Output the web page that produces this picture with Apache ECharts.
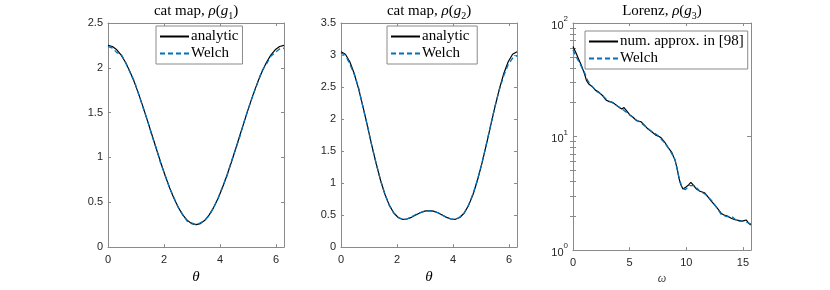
<!DOCTYPE html>
<html>
<head>
<meta charset="utf-8">
<script src="https://cdn.jsdelivr.net/npm/echarts@6/dist/echarts.min.js"></script>
<style>html,body{margin:0;padding:0;background:#fff}#c{width:830px;height:290px}</style>
</head>
<body>
<div id="c"></div>
<script>
// ---- data ----
var theta = [0,0.1571,0.3142,0.4712,0.6283,0.7854,0.9425,1.0996,1.2566,1.4137,1.5708,1.7279,1.8850,2.0420,2.1991,2.3562,2.5133,2.6704,2.8274,2.9845,3.1416,3.2987,3.4558,3.6128,3.7699,3.9270,4.0841,4.2412,4.3982,4.5553,4.7124,4.8695,5.0265,5.1836,5.3407,5.4978,5.6549,5.8119,5.9690,6.1261,6.2832];
var g1Analytic = [2.25,2.238,2.201,2.141,2.059,1.957,1.838,1.704,1.559,1.406,1.25,1.094,0.941,0.796,0.662,0.543,0.441,0.359,0.299,0.262,0.25,0.262,0.299,0.359,0.441,0.543,0.662,0.796,0.941,1.094,1.25,1.406,1.559,1.704,1.838,1.957,2.059,2.141,2.201,2.238,2.25];
var g1Welch = [2.24,2.22,2.17,2.15,2.06,1.95,1.85,1.70,1.55,1.41,1.24,1.10,0.93,0.80,0.66,0.55,0.44,0.36,0.29,0.27,0.25,0.27,0.30,0.35,0.44,0.54,0.67,0.79,0.95,1.09,1.24,1.41,1.56,1.70,1.83,1.97,2.04,2.13,2.17,2.21,2.22];
var g2Analytic = [3.05,3.011,2.895,2.711,2.472,2.193,1.892,1.589,1.300,1.040,0.822,0.652,0.533,0.463,0.434,0.439,0.465,0.502,0.536,0.561,0.570,0.561,0.536,0.502,0.465,0.439,0.434,0.463,0.533,0.652,0.822,1.040,1.300,1.589,1.892,2.193,2.472,2.711,2.895,3.011,3.05];
var g2Welch = [3.03,3.00,2.86,2.70,2.49,2.18,1.90,1.58,1.31,1.04,0.82,0.65,0.53,0.46,0.43,0.44,0.47,0.51,0.54,0.56,0.57,0.56,0.54,0.50,0.46,0.44,0.43,0.47,0.53,0.66,0.83,1.05,1.30,1.60,1.90,2.20,2.46,2.68,2.85,2.95,2.99];
var omegaNum = [0,0.25,0.5,0.75,1.0,1.2,1.4,1.7,2.0,2.3,2.6,2.9,3.2,3.5,3.8,4.1,4.3,4.5,4.7,5.0,5.3,5.6,6.0,6.3,6.6,7.0,7.3,7.6,7.8,8.1,8.4,8.7,9.0,9.2,9.35,9.5,9.7,9.9,10.2,10.4,10.6,10.9,11.2,11.6,11.9,12.2,12.5,12.8,13.1,13.4,13.7,14.0,14.3,14.6,14.9,15.1,15.3,15.5,15.7];
var g3Num = [62,55,48,42,36,31,29,27.5,25.5,24.5,23,21,20.3,20,19,18,17.5,18,17,15.6,14.8,13.8,13.5,12.6,11.7,10.9,10.3,10.0,9.7,8.9,8.0,7.3,6.2,5.2,4.3,3.8,3.45,3.55,3.75,3.95,3.75,3.45,3.3,3.2,2.95,2.7,2.5,2.3,2.1,2.02,1.98,1.9,1.85,1.83,1.80,1.82,1.84,1.72,1.66];
var omegaWelch = [0,0.3,0.6,1.0,1.3,1.7,2.1,2.5,3.0,3.5,4.0,4.5,5.0,5.5,6.0,6.5,7.0,7.5,8.0,8.5,9.0,9.3,9.6,9.9,10.3,10.7,11.2,11.7,12.2,12.7,13.1,13.6,14.1,14.5,15.0,15.4,15.7];
var g3Welch = [58,50,44,37,31,27.5,25,23.5,21,19.8,18.3,17,15.5,14.2,13.2,12,11,10.2,9,7.7,6.3,4.6,3.6,3.4,3.7,3.7,3.3,3.1,2.75,2.35,2.05,1.97,1.95,1.8,1.8,1.75,1.7];
var minorLog = [2,3,4,5,6,7,8,9,20,30,40,50,60,70,80,90];
var titleParts = [['cat map, ','1'],['cat map, ','2'],['Lorenz, ','3']];
var legendNames = [['analytic','Welch'],['analytic ','Welch '],['num. approx. in [98]','Welch  ']];

function zip(a,b){return a.map(function(v,i){return [v,b[i]];});}

var SANS = 'Liberation Sans, Arial, sans-serif';
var SERIF = 'Liberation Serif, Times New Roman, serif';
var AX = '#8a8a8a';
var TXT = '#262626';
var BLUE = '#0072BD';
var grids = [
  {left:108, top:23, width:176, height:228},
  {left:341, top:23, width:176, height:228},
  {left:573, top:23, width:178, height:228}
];
var xMax = [6.2832, 6.2832, 15.708];
var xInt = [2, 2, 5];
var xNames = ['θ','θ','ω'];

var xAxes = [], yAxes = [];
for (var i=0;i<3;i++){
  xAxes.push({type:'value', gridIndex:i, min:0, max:xMax[i], interval:xInt[i], position:'bottom',
    name:xNames[i], nameLocation:'middle', nameGap:i==2?10:8,
    nameTextStyle:{fontFamily:SERIF, fontStyle:'italic', fontSize:i==2?12:15, color:i==2?'#444':'#000'},
    axisLine:{show:true, onZero:false, lineStyle:{color:AX, width:1}},
    axisTick:{show:true, inside:true, length:3, lineStyle:{color:AX}},
    axisLabel:{show:true, margin:7, color:TXT, fontFamily:SANS, fontSize:11, showMaxLabel:false,
      formatter:function(v){return (Math.abs(v-Math.round(v))<1e-6)?String(v):'';}},
    splitLine:{show:false}});
  xAxes.push({type:'value', gridIndex:i, min:0, max:xMax[i], interval:xInt[i], position:'top',
    axisLine:{show:true, onZero:false, lineStyle:{color:AX, width:1}},
    axisTick:{show:true, inside:true, length:3, lineStyle:{color:AX}},
    axisLabel:{show:false}, splitLine:{show:false}});
}
var yMax=[2.5,3.5];
for (var j=0;j<2;j++){
  yAxes.push({type:'value', gridIndex:j, min:0, max:yMax[j], interval:0.5, position:'left',
    axisLine:{show:true, onZero:false, lineStyle:{color:AX, width:1}},
    axisTick:{show:true, inside:true, length:3, lineStyle:{color:AX}},
    axisLabel:{show:true, margin:5, color:TXT, fontFamily:SANS, fontSize:11},
    splitLine:{show:false}});
  yAxes.push({type:'value', gridIndex:j, min:0, max:yMax[j], interval:0.5, position:'right',
    axisLine:{show:true, onZero:false, lineStyle:{color:AX, width:1}},
    axisTick:{show:true, inside:true, length:3, lineStyle:{color:AX}},
    axisLabel:{show:false}, splitLine:{show:false}});
}
yAxes.push({type:'log', logBase:10, gridIndex:2, min:1, max:100, position:'left',
  axisLine:{show:true, onZero:false, lineStyle:{color:AX, width:1}},
  axisTick:{show:true, inside:true, length:4, lineStyle:{color:AX}},
  axisLabel:{show:true, margin:5, color:TXT, fontFamily:SANS, fontSize:11,
    formatter:function(v){var e=Math.round(Math.log10(v));return '{b|10}{s|'+e+'}';},
    rich:{b:{fontSize:11, fontFamily:SANS, color:TXT, lineHeight:16, verticalAlign:'bottom'},
          s:{fontSize:8, fontFamily:SANS, color:TXT, lineHeight:8, verticalAlign:'top'}}},
  splitLine:{show:false}});
yAxes.push({type:'log', logBase:10, gridIndex:2, min:1, max:100, position:'right',
  axisLine:{show:true, onZero:false, lineStyle:{color:AX, width:1}},
  axisTick:{show:true, inside:true, length:4, lineStyle:{color:AX}},
  axisLabel:{show:false}, splitLine:{show:false}});
yAxes.push({type:'log', logBase:10, gridIndex:2, min:1, max:100, position:'left',
  axisLine:{show:false}, axisTick:{show:true, inside:true, length:3, customValues:minorLog, lineStyle:{color:AX}},
  axisLabel:{show:false}, splitLine:{show:false}});
yAxes.push({type:'log', logBase:10, gridIndex:2, min:1, max:100, position:'right',
  axisLine:{show:false}, axisTick:{show:true, inside:true, length:3, customValues:minorLog, lineStyle:{color:AX}},
  axisLabel:{show:false}, splitLine:{show:false}});

function titleText(t){return '{n|'+t[0]+'}{i|ρ}{n|(}{i|g}{s|'+t[1]+'}{n|)}';}
var rich = {n:{fontFamily:SERIF, fontSize:15, fontWeight:'normal', color:'#000', lineHeight:20, verticalAlign:'middle'},
            i:{fontFamily:SERIF, fontSize:15, fontWeight:'normal', fontStyle:'italic', color:'#000', lineHeight:20, verticalAlign:'middle'},
            s:{fontFamily:SERIF, fontSize:10, fontWeight:'normal', color:'#000', lineHeight:20, verticalAlign:'bottom'}};
var centers = [196, 429, 662];
var titleArr = titleParts.map(function(t,k){
  return {text:titleText(t), left:centers[k], top:1, textAlign:'center', padding:0,
    textStyle:{fontWeight:'normal', rich:rich}};
});

function line(name, xi, yi, data, dashed){
  return {type:'line', name:name, xAxisIndex:xi, yAxisIndex:yi, data:data, showSymbol:false, symbol:'none',
    animation:false, smooth:false,
    lineStyle:{color:dashed?BLUE:'#000', width:dashed?1.3:1.2, type:dashed?[5,3]:'solid'},
    itemStyle:{color:dashed?BLUE:'#000'}};
}
var legendCommon = {orient:'vertical', backgroundColor:'#fff', borderColor:'#8a8a8a', borderWidth:1,
  padding:[3,4,3,3], itemGap:2, itemWidth:29, itemHeight:15, borderRadius:0,
  itemStyle:{opacity:0},
  textStyle:{fontFamily:SERIF, fontSize:15, color:'#000', padding:[0,0,0,-3]}, selectedMode:false};
var legendPos = [[156,26],[387,26],[585,31]];

var option = {
  animation:false,
  backgroundColor:'#fff',
  title:titleArr,
  grid:grids,
  xAxis:xAxes,
  yAxis:yAxes,
  legend:legendNames.map(function(n,k){
    return Object.assign({}, legendCommon, {left:legendPos[k][0], top:legendPos[k][1], data:n});
  }),
  series:[
    line(legendNames[0][0],0,0,zip(theta,g1Analytic),false),
    line(legendNames[0][1],0,0,zip(theta,g1Welch),true),
    line(legendNames[1][0],2,2,zip(theta,g2Analytic),false),
    line(legendNames[1][1],2,2,zip(theta,g2Welch),true),
    line(legendNames[2][0],4,4,zip(omegaNum,g3Num),false),
    line(legendNames[2][1],4,4,zip(omegaWelch,g3Welch),true)
  ]
};
var chart = echarts.init(document.getElementById('c'), null, {renderer:'canvas'});
chart.setOption(option);
</script>
</body>
</html>
